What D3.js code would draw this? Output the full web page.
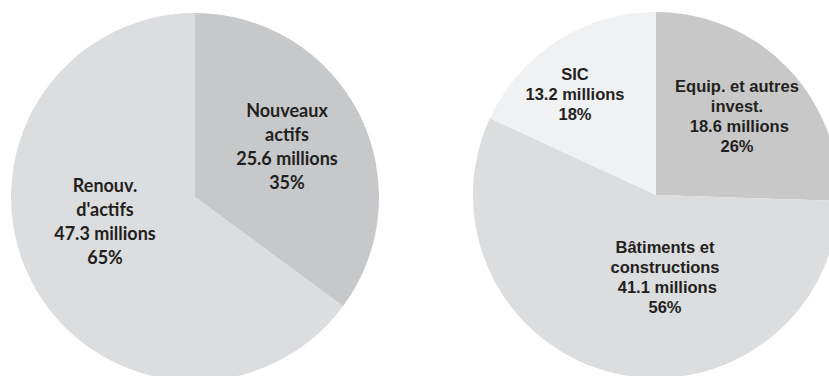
<!DOCTYPE html>
<html><head><meta charset="utf-8">
<script src="https://cdn.jsdelivr.net/npm/d3@7"></script>
<style>html,body{margin:0;padding:0;background:#fff;}svg{display:block;}text{white-space:pre;}</style>
</head><body>
<svg id="chart" width="829" height="376"></svg>
<script>
// Left pie: type of investment
const leftCategories = ["Nouveaux actifs", "Renouv. d'actifs"];
const leftValues = [25.6, 47.3];
const leftLabels = [
  ["Nouveaux", "actifs", "25.6 millions", "35%"],
  ["Renouv.", "d'actifs", "47.3 millions", "65%"]
];
const leftColors = ["#c7c8ca", "#dcdddf"];

// Right pie: asset category
const rightCategories = ["Equip. et autres invest.", "Bâtiments et constructions", "SIC"];
const rightValues = [18.6, 41.1, 13.2];
const rightLabels = [
  ["Equip. et autres", "invest.", " 18.6 millions", "26%"],
  ["Bâtiments et", "constructions", " 41.1 millions", "56%"],
  ["SIC", "13.2 millions", "18%"]
];
const rightColors = ["#c8c8c8", "#dcdddf", "#f0f1f2"];

const svg = d3.select("#chart");

function drawPie(cx, cy, r, values, colors, labels, labelPos, font, size, lh) {
  const pie = d3.pie().sort(null).value(d => d);
  const arc = d3.arc().innerRadius(0).outerRadius(r);
  const g = svg.append("g").attr("transform", `translate(${cx},${cy})`);
  const arcs = pie(values);
  g.selectAll("path").data(arcs).join("path")
    .attr("d", arc).attr("fill", (d, i) => colors[i]);
  arcs.forEach((a, i) => {
    const [lx, ly] = labelPos[i];
    const t = g.append("text")
      .attr("text-anchor", "middle")
      .attr("font-family", font)
      .attr("font-weight", "bold")
      .attr("font-size", size)
      .attr("fill", "#231f20");
    labels[i].forEach((line, k) => {
      t.append("tspan").attr("x", lx).attr("y", ly + k * lh).text(line);
    });
  });
}

drawPie(195, 197, 184, leftValues, leftColors, leftLabels,
  [[92, -80], [-90, -5]], "Lato, 'Open Sans', sans-serif", 18, 24);

drawPie(656, 195, 183, rightValues, rightColors, rightLabels,
  [[81, -103], [9, 58], [-81, -115]], "'Liberation Sans', Arial, sans-serif", 16.5, 20);
</script>
</body></html>
